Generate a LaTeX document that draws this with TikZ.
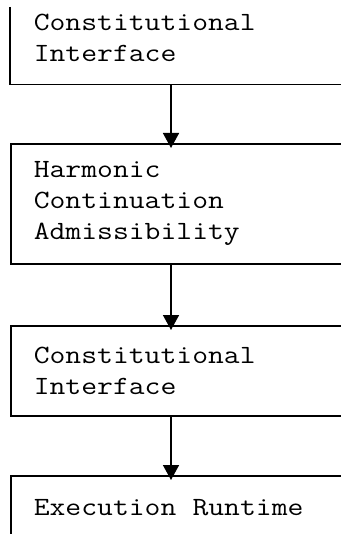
\documentclass[tikz,border=0pt]{standalone}
\usepackage{fontspec}
\setmonofont[FakeStretch=1.17]{Latin Modern Mono}
\usepackage{tikz}
\usetikzlibrary{positioning,calc}
\usetikzlibrary{arrows.meta}
\newcommand{\spaziofisso}{\spaceskip=0.614em\relax}
\tikzstyle{blocco} = [rectangle, anchor=north west, text width=360pt, inner xsep=23pt, inner ysep=0pt, align=left, font=\ttfamily\fontsize{26.3}{31}\selectfont, execute at begin node=\spaziofisso, line width=1.6pt]
\tikzstyle{freccia} = [line width=1.6pt, -{_[sep=6pt]Triangle[length=15pt,width=16pt]}, shorten >=-5pt]

\begin{document}
\begin{tikzpicture}[x=1pt,y=1pt]
\useasboundingbox (0,0) rectangle (340,-534);
\node (ci1) at (10,8) [blocco, minimum height=91pt] {Constitutional\\Interface};
\draw[line width=1.6pt] ([yshift=-15pt]ci1.north west) -- (ci1.south west) -- (ci1.south east);
\node (hca) at (10,-143) [blocco, draw, minimum height=120pt] {Harmonic\\Continuation\\Admissibility};
\node (ci2) at (10,-325) [blocco, draw, minimum height=90pt] {Constitutional\\Interface};
\node (er) at (10,-475) [blocco, draw, minimum height=64pt] {Execution Runtime};
\draw[freccia] ([xshift=161pt]ci1.south west) -- ([xshift=161pt]hca.north west);
\draw[freccia] ([xshift=161pt]hca.south west) -- ([xshift=161pt]ci2.north west);
\draw[freccia] ([xshift=161pt]ci2.south west) -- ([xshift=161pt]er.north west);
\end{tikzpicture}
\end{document}
